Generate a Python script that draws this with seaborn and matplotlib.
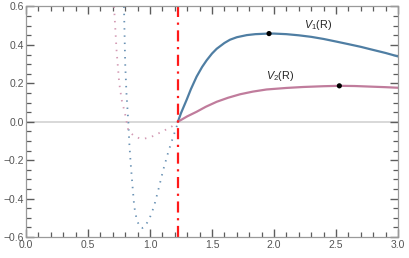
import numpy as np
import pandas as pd
import seaborn as sns
import matplotlib.pyplot as plt
from matplotlib.ticker import MultipleLocator

# values
v1_x = [1.225, 1.25, 1.296, 1.33, 1.376, 1.42, 1.457, 1.5, 1.538, 1.6, 1.645,
        1.7, 1.78, 1.85, 1.954, 2.0, 2.1, 2.2, 2.3, 2.4, 2.505, 2.6, 2.7,
        2.774, 2.9, 3.0]
v1_y = [0.0, 0.045, 0.115, 0.17, 0.235, 0.285, 0.32, 0.355, 0.38, 0.41, 0.427,
        0.44, 0.451, 0.456, 0.459, 0.459, 0.456, 0.45, 0.442, 0.431, 0.417,
        0.404, 0.39, 0.378, 0.358, 0.34]

v2_x = [1.225, 1.3, 1.376, 1.45, 1.538, 1.63, 1.726, 1.83, 1.94, 2.1, 2.236,
        2.4, 2.526, 2.65, 2.774, 2.9, 3.0]
v2_y = [0.0, 0.028, 0.052, 0.078, 0.104, 0.125, 0.143, 0.157, 0.168, 0.176,
        0.181, 0.185, 0.187, 0.186, 0.183, 0.18, 0.177]

v1_in_x = [0.79, 0.795, 0.80, 0.81, 0.825, 0.833, 0.844, 0.857, 0.873, 0.893,
           0.919, 0.94, 0.96, 1.0, 1.032, 1.067, 1.107, 1.148, 1.183, 1.215,
           1.225]
v1_in_y = [0.6, 0.45, 0.3, 0.15, 0.0, -0.11, -0.216, -0.32, -0.442, -0.51,
           -0.55, -0.553, -0.546, -0.497, -0.442, -0.355, -0.25, -0.156,
           -0.086, -0.025, 0.0]

v2_in_x = [0.71, 0.73, 0.752, 0.772, 0.798, 0.825, 0.852, 0.879, 0.914, 0.952,
           0.989, 1.027, 1.059, 1.094, 1.134, 1.175, 1.21, 1.225]
v2_in_y = [0.6, 0.374, 0.2, 0.113, 0.044, -0.046, -0.063, -0.077, -0.086,
           -0.088, -0.083, -0.074, -0.063, -0.053, -0.039, -0.025, -0.008, 0.0]

r_cut = 1.225
peak_x = [1.96, 2.527]
peak_y = [0.459, 0.187]

blue = "#4f7ea3"
pink = "#c07c9c"

sns.set_style("ticks")
plt.rcParams["font.family"] = ["Liberation Sans", "DejaVu Sans"]
plt.rcParams["mathtext.fontset"] = "custom"
plt.rcParams["mathtext.it"] = "Liberation Sans:italic"
plt.rcParams["mathtext.rm"] = "Liberation Sans"
plt.rcParams["xtick.direction"] = "in"
plt.rcParams["ytick.direction"] = "in"

fig = plt.figure(figsize=(4.09, 2.58), dpi=100)
ax = fig.add_axes([26 / 409, 21 / 258, 372 / 409, 230.5 / 258])

ax.axhline(0, color="#d8d8d8", lw=1.4, zorder=0)

sns.lineplot(x=v1_in_x, y=v1_in_y, sort=False, estimator=None, ax=ax,
             color="#6b93b5", lw=1.3, linestyle=(0, (0.8, 3.2)))
sns.lineplot(x=v2_in_x, y=v2_in_y, sort=False, estimator=None, ax=ax,
             color="#d39ab4", lw=1.3, linestyle=(0, (0.8, 3.2)))
sns.lineplot(x=v1_x, y=v1_y, sort=False, estimator=None, ax=ax,
             color=blue, lw=1.6)
sns.lineplot(x=v2_x, y=v2_y, sort=False, estimator=None, ax=ax,
             color=pink, lw=1.6)
ax.axvline(r_cut, color="#ff1a1a", lw=1.6, linestyle=(0, (5, 2.5, 1, 2.5)))
sns.scatterplot(x=peak_x, y=peak_y, ax=ax, color="black", s=14,
                edgecolor="none", zorder=5)

ax.text(2.355, 0.503, r"$V_1$(R)", fontsize=7.8, ha="center", va="center")
ax.text(2.05, 0.236, r"$V_2$(R)", fontsize=7.8, ha="center", va="center")

ax.set_xlim(0, 3)
ax.set_ylim(-0.6, 0.6)
ax.xaxis.set_major_locator(MultipleLocator(0.5))
ax.xaxis.set_minor_locator(MultipleLocator(0.1))
ax.yaxis.set_major_locator(MultipleLocator(0.2))
ax.yaxis.set_minor_locator(MultipleLocator(0.05))
ax.set_xticklabels([f"{v:.1f}" for v in ax.get_xticks()])
ax.set_yticklabels([f"{v:.1f}".replace("-", "\u2212") for v in ax.get_yticks()])

for s in ax.spines.values():
    s.set_color("#9a9a9a")
    s.set_linewidth(0.9)
ax.tick_params(which="both", top=True, right=True, bottom=True, left=True,
               color="#5c5c5c", labelcolor="#555555", labelsize=7.5, pad=2)
ax.tick_params(which="major", length=6, width=1.0)
ax.tick_params(which="minor", length=3.5, width=0.9)
ax.tick_params(axis="y", pad=1.5)

fig.savefig("out.png", dpi=100)
